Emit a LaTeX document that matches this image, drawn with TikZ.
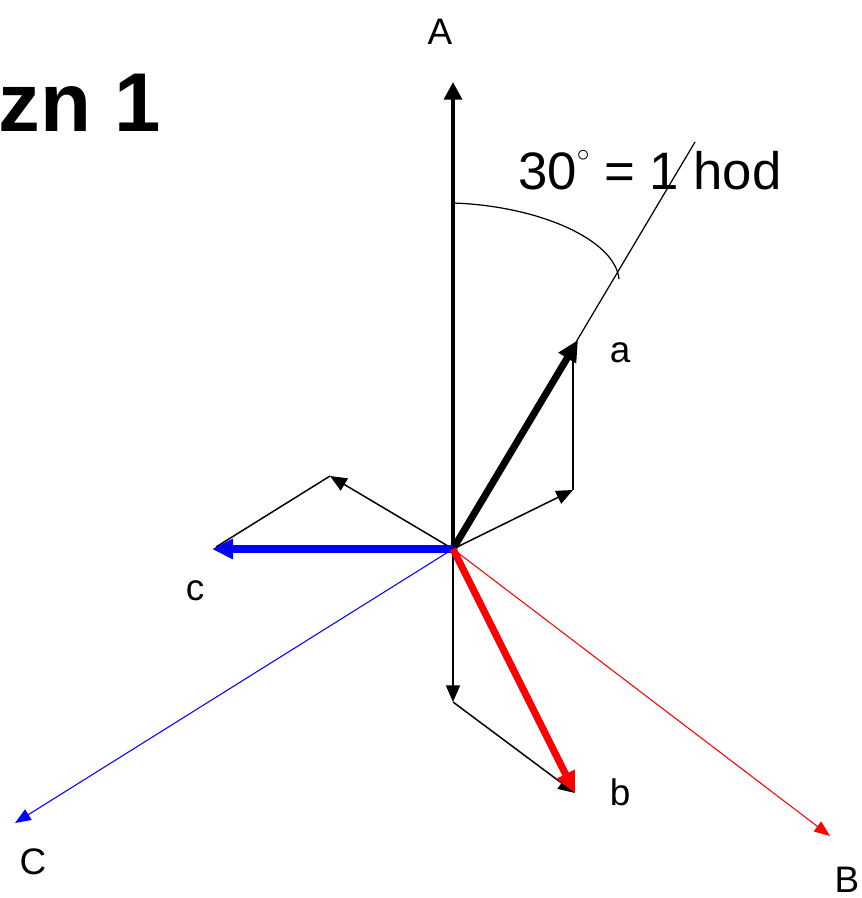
\documentclass[tikz,border=0pt]{standalone}
\usepackage{fontspec}
\setmainfont{Liberation Sans}
\usetikzlibrary{arrows.meta}
\tikzset{
  thinvec/.style={line width=0.85pt, -{Triangle[length=9.5pt,width=8pt]}},
  thickvec/.style={line width=4pt, -{Triangle[length=12pt,width=11pt]}},
  axisvec/.style={line width=0.6pt, -{Triangle[length=9pt,width=7pt]}},
  lbl/.style={font=\fontsize{21}{24}\selectfont, inner sep=0pt}
}
\begin{document}
\begin{tikzpicture}[x=0.02cm, y=-0.02cm]
    \useasboundingbox (0,0) rectangle (861,898);
    \coordinate (O)  at (453,549);                                                 % Nullpunkt
    \coordinate (Ae) at (453,82);   \coordinate (ae) at (578,340);                 % Spitzen
    \coordinate (be) at (575,793);  \coordinate (ce) at (212,549);
    \coordinate (Be) at (830,836);  \coordinate (Ce) at (15,823);
    \coordinate (ax) at (573,490);  \coordinate (bx) at (453,702);                 % Hilfspunkte
    \coordinate (cx) at (330,476);  \coordinate (hr) at (695,142);
    \draw[line width=2.8pt, -{Triangle[length=10pt,width=10pt]}] (O) -- (Ae);       % A
    \draw[line width=0.7pt] (O) -- (hr);                                            % 30 Grad
    \draw[line width=0.7pt] (453,203) .. controls (540,206) and (615,240) .. (619,279); % Bogen
    \draw[axisvec, blue] (O) -- (Ce);                                               % C
    \draw[axisvec, red] (O) -- (Be);                                                % B
    \draw[thinvec] (O) -- (ax);  \draw[line width=0.85pt] (ax) -- (573,345);        % a-Teile
    \draw[thinvec] (O) -- (cx);  \draw[line width=0.85pt] (cx) -- (216,547);        % c-Teile
    \draw[thinvec] (O) -- (bx);  \draw[thinvec] (bx) -- (be);                       % b-Teile
    \draw[thickvec, black] (O) -- (ae);                                             % a
    \draw[thickvec, blue] (O) -- (ce);                                              % c
    \draw[thickvec, red] (O) -- (be);                                               % b
    \node[lbl] (lA) at (440,32) {A};
    \node[lbl] (la) at (620,353) {a};
    \node[lbl] (lb) at (620,792) {b};
    \node[lbl] (lc) at (195,591) {c};
    \node[lbl] (lB) at (847,880) {B};
    \node[lbl] (lC) at (33,862) {C};
    \node[inner sep=0pt, anchor=base west, font=\fontsize{30}{34}\selectfont] (hod) at (518,190)
      {30\raisebox{0.55em}{\fontsize{14}{14}\selectfont$\circ$} = 1 hod};
    \node[inner sep=0pt, anchor=base west, font=\bfseries\fontsize{47.5}{50}\selectfont] (zn) at (-2,132) {zn 1};
\end{tikzpicture}
\end{document}
